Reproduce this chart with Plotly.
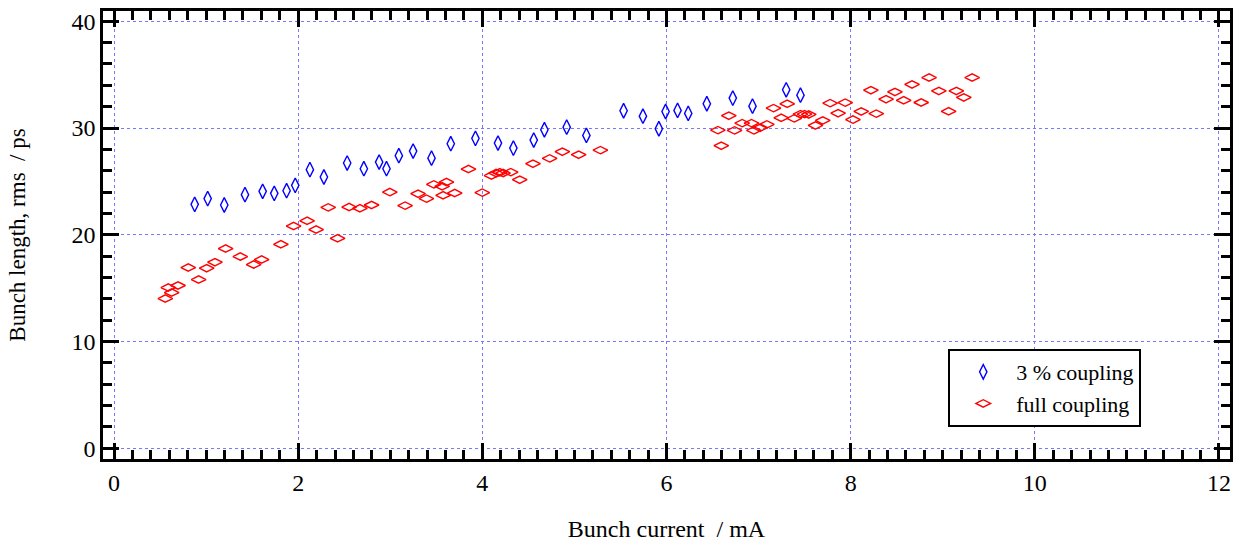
import plotly.graph_objects as go

# 3 % coupling
x_3pct = [0.876, 1.017, 1.197, 1.422, 1.614, 1.740, 1.874, 1.968, 2.127, 2.279,
          2.532, 2.713, 2.879, 2.959, 3.093, 3.248, 3.448, 3.657, 3.925, 4.170,
          4.337, 4.558, 4.674, 4.916, 5.130, 5.534, 5.744, 5.917, 5.990, 6.120,
          6.236, 6.438, 6.720, 6.934, 7.300, 7.455]
y_3pct = [22.85, 23.39, 22.79, 23.76, 24.07, 23.88, 24.13, 24.63, 26.10, 25.41,
          26.72, 26.19, 26.81, 26.19, 27.41, 27.84, 27.18, 28.53, 29.03, 28.59,
          28.12, 28.87, 29.84, 30.08, 29.31, 31.62, 31.11, 29.93, 31.55, 31.65,
          31.37, 32.27, 32.80, 32.05, 33.58, 33.08]

# full coupling
x_full = [0.557, 0.626, 0.589, 0.695, 0.806, 0.919, 1.006, 1.096, 1.212, 1.371,
          1.516, 1.603, 1.812, 1.950, 2.097, 2.195, 2.326, 2.428, 2.553, 2.670,
          2.797, 2.995, 3.161, 3.302, 3.393, 3.473, 3.563, 3.610, 3.574, 3.700,
          3.849, 3.999, 4.099, 4.149, 4.189, 4.225, 4.308, 4.406, 4.550, 4.731,
          4.869, 5.046, 5.282, 6.558, 6.595, 6.677, 6.739, 6.822, 6.923, 6.949,
          7.018, 7.090, 7.162, 7.246, 7.311, 7.387, 7.455, 7.499, 7.545, 7.618,
          7.697, 7.777, 7.864, 7.941, 8.025, 8.115, 8.220, 8.278, 8.385, 8.481,
          8.576, 8.667, 8.766, 8.852, 8.958, 9.064, 9.148, 9.229, 9.320]
y_full = [14.03, 14.59, 15.06, 15.25, 16.93, 15.81, 16.87, 17.43, 18.71, 17.96,
          17.21, 17.68, 19.11, 20.82, 21.31, 20.49, 22.57, 19.67, 22.60, 22.48,
          22.79, 24.00, 22.73, 23.85, 23.39, 24.72, 24.54, 24.94, 23.70, 23.91,
          26.16, 23.95, 25.55, 25.78, 25.85, 25.78, 25.87, 25.16, 26.66, 27.16,
          27.78, 27.50, 27.93, 29.80, 28.34, 31.15, 29.78, 30.46, 30.46, 29.78,
          30.03, 30.34, 31.86, 30.96, 32.27, 30.90, 31.30, 31.30, 31.27, 30.24,
          30.71, 32.33, 31.39, 32.38, 30.79, 31.55, 33.54, 31.35, 32.70, 33.38,
          32.60, 34.08, 32.39, 34.73, 33.47, 31.57, 33.47, 32.86, 34.73]

x_ticks = [0, 2, 4, 6, 8, 10, 12]
y_ticks = [0, 10, 20, 30, 40]
x_mid_ticks = [1, 3, 5, 7, 9, 11]

FONT = "Liberation Serif"
GRID = "rgb(120,120,255)"

fig = go.Figure()
fig.add_trace(go.Scatter(
    x=x_3pct, y=y_3pct, mode="markers", name="3 % coupling",
    marker=dict(symbol="diamond-tall-open", size=10.5, color="#0000ff",
                line=dict(width=1.4, color="#0000ff")),
))
fig.add_trace(go.Scatter(
    x=x_full, y=y_full, mode="markers", name="full coupling",
    marker=dict(symbol="diamond-wide-open", size=10.5, color="#ff0000",
                line=dict(width=1.4, color="#ff0000")),
))

xr = [-0.12, 12.12]
yr = [-1.0, 40.96]

fig.update_layout(
    width=1240, height=542,
    margin=dict(l=103, r=10, t=11, b=83),
    paper_bgcolor="white", plot_bgcolor="white",
    font=dict(family=FONT, size=22, color="black"),
    xaxis=dict(
        range=xr, tickmode="array", tickvals=x_ticks,
        ticktext=[str(v) for v in x_ticks],
        showline=True, linewidth=2.5, linecolor="black", mirror="allticks",
        ticks="inside", ticklen=16, tickwidth=2.5, tickcolor="black",
        showgrid=True, gridcolor=GRID, griddash="dot", gridwidth=1,
        zeroline=False, automargin=False, layer="above traces",
        minor=dict(dtick=0.2, tick0=0, ticks="inside", ticklen=9, tickwidth=2.5,
                   tickcolor="black", showgrid=False),
        tickfont=dict(family=FONT, size=24),
        title=dict(text="Bunch current \u00a0/ mA", font=dict(family=FONT, size=24),
                   standoff=26),
    ),
    yaxis=dict(
        range=yr, tickmode="array", tickvals=y_ticks,
        ticktext=[str(v) for v in y_ticks],
        showline=True, linewidth=2.5, linecolor="black", mirror="allticks",
        ticks="inside", ticklen=16, tickwidth=2.5, tickcolor="black",
        showgrid=True, gridcolor=GRID, griddash="dot", gridwidth=1,
        zeroline=False, automargin=False, layer="above traces",
        minor=dict(dtick=2, tick0=0, ticks="inside", ticklen=9, tickwidth=2.5,
                   tickcolor="black", showgrid=False),
        tickfont=dict(family=FONT, size=24),
        title=dict(text="Bunch length, rms \u00a0/ ps", font=dict(family=FONT, size=23),
                   standoff=40),
    ),
    xaxis2=dict(
        overlaying="x", anchor="y", range=xr, tickmode="array", tickvals=x_mid_ticks,
        showticklabels=False, ticks="inside", ticklen=13, tickwidth=2.5,
        tickcolor="black", showline=True, linewidth=2.5, linecolor="black",
        mirror="allticks", showgrid=False, zeroline=False, automargin=False,
    ),
    legend=dict(
        x=0.750, y=0.2455, xanchor="left", yanchor="top",
        bgcolor="white", bordercolor="black", borderwidth=2,
        font=dict(family=FONT, size=22), itemsizing="trace",
        itemwidth=56, tracegroupgap=0,
    ),
    showlegend=True,
)

fig.write_html("out.html")
